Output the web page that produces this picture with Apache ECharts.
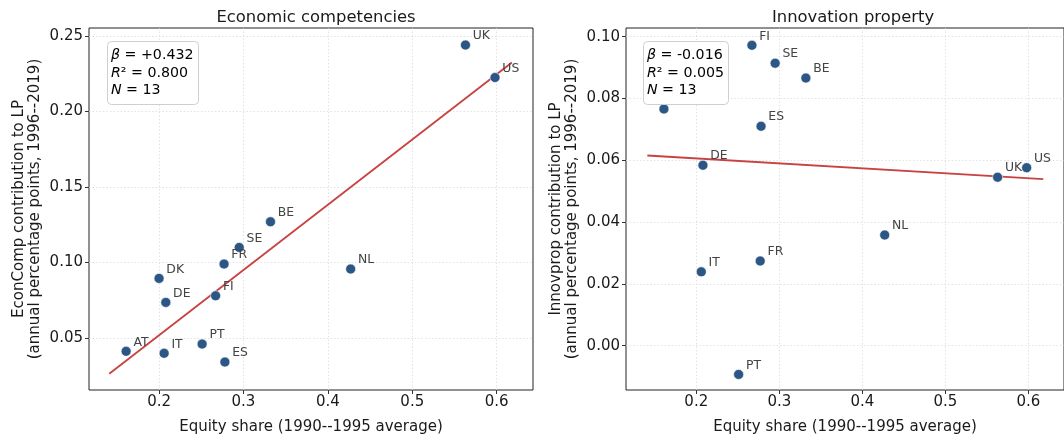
<!DOCTYPE html>
<html><head><meta charset="utf-8">
<script src="https://cdn.jsdelivr.net/npm/echarts@6/dist/echarts.min.js"></script>
<style>html,body{margin:0;padding:0;background:#fff}#c{width:1064px;height:441px}</style>
</head><body><div id="c"></div>
<script>
const countries   = ['UK','US','BE','SE','FR','DK','DE','FI','NL','AT','IT','PT','ES'];
const equityShare = [0.563,0.598,0.332,0.295,0.277,0.200,0.208,0.267,0.427,0.161,0.206,0.251,0.278];
const econComp    = [0.244,0.2225,0.127,0.110,0.099,0.0895,0.0736,0.078,0.0957,0.0412,0.0399,0.046,0.0341];
const innovProp   = [0.0545,0.0576,0.0866,0.0914,0.0274,0.089,0.0584,0.0972,0.0358,0.0766,0.0239,-0.0093,0.071];
const econFit  = {beta: 0.432, intercept: -0.0345, r2: '0.800', n: 13, betaText: '+0.432'};
const innovFit = {beta: -0.016, intercept: 0.0638, r2: '0.005', n: 13, betaText: '-0.016'};
const xTicks      = [0.2,0.3,0.4,0.5,0.6];
const econTicks   = [0.05,0.10,0.15,0.20,0.25];
const innovTicks  = [0.00,0.02,0.04,0.06,0.08,0.10];

const FONT = 'DejaVu Sans';
const DOT = '#2c5784', LINE = '#c94242', TXT = '#1a1a1a';
const FS = 15;

function pts(ys){ return countries.map((c,i)=>({name:c, value:[equityShare[i], ys[i]]})); }
function fitLine(f){
  const x0 = Math.min(...equityShare) - 0.02, x1 = Math.max(...equityShare) + 0.02;
  return [[x0, f.intercept + f.beta*x0],[x1, f.intercept + f.beta*x1]];
}
function xAxis(gi, min, max){
  return {type:'value', gridIndex:gi, min:min, max:max,
    name:'Equity share (1990--1995 average)', nameLocation:'middle', nameGap:30,
    nameTextStyle:{fontFamily:FONT, fontSize:FS, color:TXT},
    axisLine:{show:false, onZero:false},
    axisTick:{show:true, customValues:xTicks, length:4, lineStyle:{color:'#333', width:1}},
    axisLabel:{customValues:xTicks, formatter:v=>v.toFixed(1), fontFamily:FONT, fontSize:FS, color:TXT, margin:5},
    splitLine:{show:true, lineStyle:{color:'#dcdcdc', type:[1.5,2], width:0.8}}};
}
function yAxis(gi, min, max, ticks, name){
  return {type:'value', gridIndex:gi, min:min, max:max,
    name:name, nameLocation:'middle', nameGap:46,
    nameTextStyle:{fontFamily:FONT, fontSize:FS, color:TXT, lineHeight:16},
    axisLine:{show:false, onZero:false},
    axisTick:{show:true, customValues:ticks, length:4, lineStyle:{color:'#333', width:1}},
    axisLabel:{customValues:ticks, formatter:v=>v.toFixed(2), fontFamily:FONT, fontSize:FS, color:TXT, margin:6},
    splitLine:{show:true, lineStyle:{color:'#dcdcdc', type:[1.5,2], width:0.8}}};
}
function scatter(gi, ys){
  return {type:'scatter', xAxisIndex:gi, yAxisIndex:gi, data:pts(ys), symbolSize:10, z:3,
    itemStyle:{color:DOT, borderColor:'#fff', borderWidth:0.6, opacity:1},
    label:{show:true, formatter:p=>p.name, position:'right', distance:2, offset:[0,-9],
      fontFamily:FONT, fontSize:12.4, color:'#444'}};
}
function line(gi, f){
  return {type:'line', xAxisIndex:gi, yAxisIndex:gi, data:fitLine(f), symbol:'none', z:2,
    lineStyle:{color:LINE, width:1.8}, silent:true};
}
function statBox(left, f){
  return {left:left, top:41, padding:[6,5,5,4], backgroundColor:'#fff', borderColor:'#cfcfcf', borderWidth:1, borderRadius:4, z:10,
    text:'{i|β} = '+f.betaText+'\n{i|R}² = '+f.r2+'\n{i|N} = '+f.n,
    textStyle:{fontFamily:FONT, fontSize:14.2, fontWeight:'normal', color:'#000', lineHeight:17.5,
      rich:{i:{fontFamily:FONT, fontStyle:'italic', fontSize:14.2, color:'#000', lineHeight:17.5}}}};
}

const chart = echarts.init(document.getElementById('c'), null, {renderer:'canvas'});
chart.setOption({
  animation:false,
  backgroundColor:'#fff',
  title:[
    {text:'Economic competencies', left:311, top:5, textAlign:'center', textStyle:{fontFamily:FONT, fontSize:16.4, fontWeight:'normal', color:TXT}},
    {text:'Innovation property', left:848, top:5, textAlign:'center', textStyle:{fontFamily:FONT, fontSize:16.4, fontWeight:'normal', color:TXT}},
    statBox(107, econFit),
    statBox(643, innovFit)
  ],
  grid:[
    {left:89, right:531, top:28, bottom:51, show:true, borderColor:'#222', borderWidth:1, backgroundColor:'transparent'},
    {left:626, right:-6, top:28, bottom:51, show:true, borderColor:'#222', borderWidth:1, backgroundColor:'transparent'}
  ],
  xAxis:[xAxis(0, 0.117, 0.643), xAxis(1, 0.1153, 0.643)],
  yAxis:[
    yAxis(0, 0.0156, 0.2553, econTicks, 'EconComp contribution to LP\n(annual percentage points, 1996--2019)'),
    yAxis(1, -0.01434, 0.1028, innovTicks, 'Innovprop contribution to LP\n(annual percentage points, 1996--2019)')
  ],
  series:[line(0, econFit), scatter(0, econComp), line(1, innovFit), scatter(1, innovProp)]
});
</script></body></html>
